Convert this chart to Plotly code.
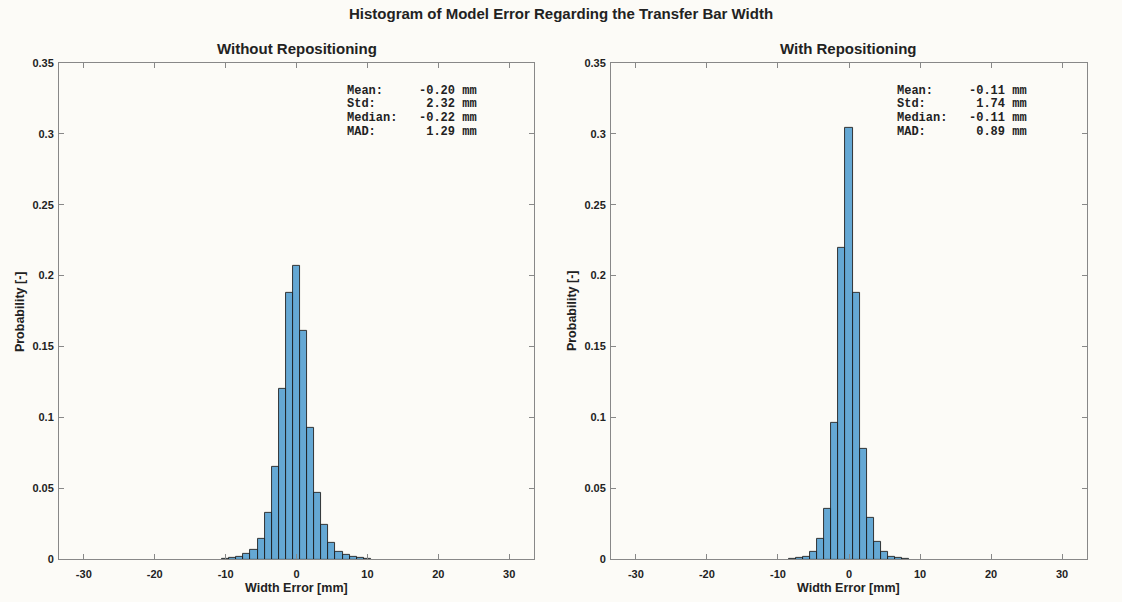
import plotly.graph_objects as go

# ---- data ----
bin_centers_left = [-10, -9, -8, -7, -6, -5, -4, -3, -2, -1, 0, 1, 2, 3, 4, 5, 6, 7, 8, 9, 10]
prob_left = [0.0005, 0.001, 0.002, 0.004, 0.007, 0.0145, 0.033, 0.065, 0.120, 0.188, 0.207,
             0.161, 0.0925, 0.047, 0.024, 0.0115, 0.005, 0.003, 0.0015, 0.001, 0.0005]

bin_centers_right = [-8, -7, -6, -5, -4, -3, -2, -1, 0, 1, 2, 3, 4, 5, 6, 7, 8]
prob_right = [0.0004, 0.0008, 0.0016, 0.005, 0.0145, 0.0356, 0.096, 0.2195, 0.3045,
              0.188, 0.078, 0.029, 0.012, 0.005, 0.0018, 0.0008, 0.0004]

stats_labels = ["Mean:", "Std:", "Median:", "MAD:"]
stats_left = [-0.20, 2.32, -0.22, 1.29]
stats_right = [-0.11, 1.74, -0.11, 0.89]

main_title = "Histogram of Model Error Regarding the Transfer Bar Width"
sub_titles = ["Without Repositioning", "With Repositioning"]
x_label = "Width Error [mm]"
y_label = "Probability [-]"
x_ticks = [-30, -20, -10, 0, 10, 20, 30]
x_tick_text = ["-30", "-20", "-10", "0", "10", "20", "30"]
y_ticks = [0, 0.05, 0.1, 0.15, 0.2, 0.25, 0.3, 0.35]
y_tick_text = ["0", "0.05", "0.1", "0.15", "0.2", "0.25", "0.3", "0.35"]

# ---- layout geometry ----
W, H = 1122, 602
BG = "#fcfbf7"


def py(y_px):
    """paper y fraction for a target pixel row (with vertical render compensation)"""
    y_in = (y_px - 4) / 0.983
    return 1 - y_in / H


left_dom = [59 / W, 534 / W]
right_dom = [611 / W, 1087 / W]
y_dom = [py(559), py(61)]

bar_color = "rgba(0,114,189,0.6)"
font_fam = "Liberation Sans, Arial, sans-serif"

fig = go.Figure()
fig.add_trace(go.Bar(x=bin_centers_left, y=prob_left, width=1, xaxis="x", yaxis="y",
                     marker=dict(color=bar_color, line=dict(color="#222", width=0.9)),
                     showlegend=False))
fig.add_trace(go.Bar(x=bin_centers_right, y=prob_right, width=1, xaxis="x2", yaxis="y2",
                     marker=dict(color=bar_color, line=dict(color="#222", width=0.9)),
                     showlegend=False))

ax_common = dict(showgrid=False, zeroline=False, showline=True, linecolor="#888",
                 linewidth=1, mirror="ticks", ticks="inside", ticklen=5, tickcolor="#888",
                 tickfont=dict(family=font_fam, size=11, color="#222", weight="bold"))

xa = dict(range=[-33.5, 33.5], tickvals=x_ticks, ticktext=x_tick_text, ticklabelstandoff=4, **ax_common)
ya = dict(range=[0, 0.35], tickvals=y_ticks, ticktext=y_tick_text, ticklabelstandoff=2, **ax_common)

fig.update_layout(
    width=W, height=H, autosize=False, paper_bgcolor=BG, plot_bgcolor=BG,
    margin=dict(l=0, r=0, t=0, b=0), bargap=0,
    xaxis=dict(domain=left_dom, anchor="y", **xa),
    yaxis=dict(domain=y_dom, anchor="x", **ya),
    xaxis2=dict(domain=right_dom, anchor="y2", **xa),
    yaxis2=dict(domain=y_dom, anchor="x2", **ya),
)

ann = []
ann.append(dict(text=f"<b>{main_title}</b>", x=0.5, y=py(12), xref="paper", yref="paper",
                showarrow=False, font=dict(family=font_fam, size=15, color="#222"),
                xanchor="center", yanchor="middle"))
for dom, st in zip([left_dom, right_dom], sub_titles):
    ann.append(dict(text=f"<b>{st}</b>", x=(dom[0] + dom[1]) / 2, y=py(47),
                    xref="paper", yref="paper", showarrow=False,
                    font=dict(family=font_fam, size=15, color="#222"),
                    xanchor="center", yanchor="middle"))
    ann.append(dict(text=f"<b>{x_label}</b>", x=(dom[0] + dom[1]) / 2, y=py(588),
                    xref="paper", yref="paper", showarrow=False,
                    font=dict(family=font_fam, size=12.5, color="#222"),
                    xanchor="center", yanchor="middle"))
    ann.append(dict(text=f"<b>{y_label}</b>", x=dom[0] - 39 / W, y=(y_dom[0] + y_dom[1]) / 2,
                    xref="paper", yref="paper", showarrow=False, textangle=-90,
                    font=dict(family=font_fam, size=12.5, color="#222"),
                    xanchor="center", yanchor="middle"))

row_y = [89, 102.5, 116.5, 130.5]
for x0, vals in [(345, stats_left), (895, stats_right)]:
    for lab, v, yy in zip(stats_labels, vals, row_y):
        line = f"{lab:<9}{v:6.2f} mm".replace(" ", "&nbsp;")
        ann.append(dict(text=f"<b>{line}</b>", x=x0 / W, y=py(yy),
                        xref="paper", yref="paper", showarrow=False, align="left",
                        font=dict(family="Liberation Mono, Courier New, monospace", size=12,
                                  color="#222"),
                        xanchor="left", yanchor="middle"))
fig.update_layout(annotations=ann)

fig.write_html("out.html",
               config={"responsive": False, "displayModeBar": False},
               post_script="document.body.style.margin='0';document.body.style.overflow='hidden';")
